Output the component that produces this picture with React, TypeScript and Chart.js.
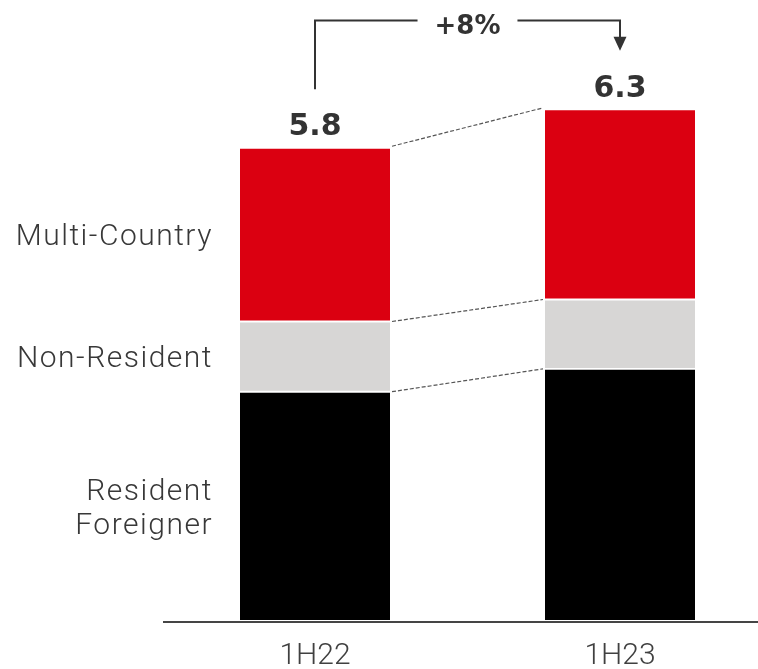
import React, { useEffect, useRef } from 'react';
import { Chart, registerables } from 'chart.js';

Chart.register(...registerables);

const categories = ['1H22', '1H23'];
const residentForeigner = [2.81, 3.09];
const nonResident = [0.86, 0.85];
const multiCountry = [2.13, 2.33];
const totalLabels = ['5.8', '6.3'];
const growthLabel = '+8%';
const seriesLabels = [['Resident', 'Foreigner'], ['Non-Resident'], ['Multi-Country']];
const seriesColors = ['#000000', '#D7D6D5', '#DB0011'];

const annotations = {
  id: 'annotations',
  afterDatasetsDraw(chart: any) {
    const ctx: CanvasRenderingContext2D = chart.ctx;
    const xs = chart.scales.x;
    const ys = chart.scales.y;
    const area = chart.chartArea;
    const series = [residentForeigner, nonResident, multiCountry];
    const half = chart.getDatasetMeta(0).data[0].width / 2;
    const cum = categories.map((_, i) => {
      const out = [0];
      let s = 0;
      series.forEach((ser) => { s += ser[i]; out.push(s); });
      return out;
    });
    ctx.save();

    // axis line
    ctx.strokeStyle = '#454545';
    ctx.lineWidth = 2;
    ctx.beginPath();
    ctx.moveTo(163, area.bottom + 1);
    ctx.lineTo(chart.width, area.bottom + 1);
    ctx.stroke();

    // dashed connectors
    const x0 = xs.getPixelForValue(0);
    const x1 = xs.getPixelForValue(1);
    ctx.strokeStyle = '#555';
    ctx.lineWidth = 1.2;
    ctx.setLineDash([4, 2]);
    for (let k = 1; k <= series.length; k++) {
      const off = k === series.length ? -1.5 : 0;
      ctx.beginPath();
      ctx.moveTo(x0 + half + 2, ys.getPixelForValue(cum[0][k]) + off);
      ctx.lineTo(x1 - half - 2, ys.getPixelForValue(cum[1][k]) + off);
      ctx.stroke();
    }
    ctx.setLineDash([]);

    // value labels
    ctx.fillStyle = '#333';
    ctx.font = 'bold 30px "DejaVu Sans"';
    ctx.textAlign = 'center';
    ctx.textBaseline = 'alphabetic';
    const baselines: number[] = [];
    categories.forEach((_, i) => {
      const yTop = ys.getPixelForValue(cum[i][series.length]);
      const b = yTop - 12.5;
      baselines.push(b);
      ctx.fillText(totalLabels[i], xs.getPixelForValue(i), b);
    });

    // growth bracket
    const topY = area.top + 11.5;
    const leftBottom = baselines[0] - 22 - 24;
    const tipY = baselines[1] - 22 - 24;
    ctx.font = 'bold 26px "DejaVu Sans"';
    const midX = (x0 + x1) / 2;
    const tw = ctx.measureText(growthLabel).width;
    ctx.fillText(growthLabel, midX, topY + 13.5);
    ctx.strokeStyle = '#333';
    ctx.lineWidth = 2;
    ctx.beginPath();
    ctx.moveTo(x0, leftBottom);
    ctx.lineTo(x0, topY);
    ctx.lineTo(midX - tw / 2 - 17, topY);
    ctx.moveTo(midX + tw / 2 + 17, topY);
    ctx.lineTo(x1, topY);
    ctx.lineTo(x1, tipY - 13);
    ctx.stroke();
    ctx.fillStyle = '#333';
    ctx.beginPath();
    ctx.moveTo(x1 - 6.5, tipY - 14);
    ctx.lineTo(x1 + 6.5, tipY - 14);
    ctx.lineTo(x1, tipY);
    ctx.closePath();
    ctx.fill();

    // category labels
    ctx.fillStyle = '#404040';
    ctx.font = '300 30px Roboto';
    ctx.textAlign = 'center';
    categories.forEach((c, i) => {
      ctx.fillText(c, xs.getPixelForValue(i), area.bottom + 43);
    });

    // series labels on the left
    ctx.fillStyle = '#383838';
    ctx.textAlign = 'right';
    (ctx as any).letterSpacing = '1.5px';
    const rightX = x0 - half - 27;
    series.forEach((_, k) => {
      const mid = ys.getPixelForValue((cum[0][k] + cum[0][k + 1]) / 2);
      const lines = seriesLabels[k];
      const lh = 34.5;
      lines.forEach((ln, j) => {
        const b = mid + 10.8 - ((lines.length - 1) * lh) / 2 + j * lh;
        ctx.fillText(ln, rightX, b);
      });
    });
    ctx.restore();
  },
};

export default function App() {
  const ref = useRef<HTMLCanvasElement>(null);
  useEffect(() => {
    if (!ref.current) return;
    const mk = (label: string, data: number[], color: string) => ({
      label,
      data,
      backgroundColor: color,
      borderColor: '#ffffff',
      borderWidth: { top: 1.3, bottom: 1.3, left: 0, right: 0 },
      borderSkipped: false,
      barThickness: 150,
      clip: false,
    });
    const chart = new Chart(ref.current, {
      type: 'bar',
      data: {
        labels: categories,
        datasets: [
          mk('Resident Foreigner', residentForeigner, seriesColors[0]),
          mk('Non-Resident', nonResident, seriesColors[1]),
          mk('Multi-Country', multiCountry, seriesColors[2]),
        ] as any,
      },
      options: {
        animation: false,
        responsive: false,
        layout: { padding: { left: 315, right: 138, top: 9, bottom: 48 } },
        plugins: { legend: { display: false }, tooltip: { enabled: false } },
        scales: {
          x: { display: false, stacked: true, offset: false },
          y: { display: false, stacked: true, min: 0, max: 7.5 },
        },
      },
      plugins: [annotations],
    });
    return () => chart.destroy();
  }, []);
  return (
    <div style={{ position: 'fixed', left: 0, top: 0, width: 758, height: 669, background: '#fff' }}>
      <canvas ref={ref} width={758} height={669} style={{ display: 'block' }} />
    </div>
  );
}
